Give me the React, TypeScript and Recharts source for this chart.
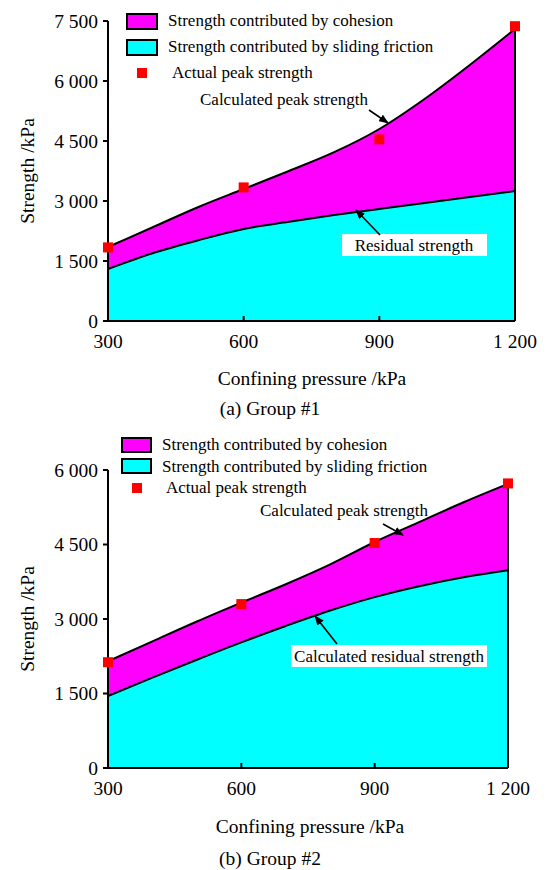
import React from "react";
import {
  Area,
  ComposedChart,
  ReferenceLine,
  Scatter,
  XAxis,
  YAxis,
} from "recharts";

// confining pressure (kPa) for the fitted curves
const PRESSURE = [300, 400, 500, 600, 700, 800, 900, 1000, 1100, 1200];
// test points
const TEST_PRESSURE = [300, 600, 900, 1200];
const X_TICKS = [300, 600, 900, 1200];

// Group #1
const G1_PEAK = [1850, 2350, 2850, 3300, 3750, 4220, 4800, 5550, 6400, 7300];
const G1_RESIDUAL = [1300, 1700, 2020, 2300, 2480, 2650, 2800, 2950, 3100, 3250];
const G1_ACTUAL = [1840, 3340, 4540, 7370];
const G1_Y_TICKS = [0, 1500, 3000, 4500, 6000, 7500];

// Group #2
const G2_PEAK = [2150, 2550, 2950, 3330, 3700, 4100, 4550, 4950, 5350, 5720];
const G2_RESIDUAL = [1450, 1820, 2180, 2530, 2860, 3170, 3440, 3660, 3840, 3980];
const G2_ACTUAL = [2130, 3300, 4530, 5730];
const G2_Y_TICKS = [0, 1500, 3000, 4500, 6000];

const LEGEND_LABELS = [
  "Strength contributed by cohesion",
  "Strength contributed by sliding friction",
  "Actual peak strength",
];

const FONT = "'Liberation Serif', 'Times New Roman', serif";
const MAGENTA = "#FF00FF";
const CYAN = "#00FFFF";
const RED = "#FF0000";
const TICK_FS = 19.5;
const TITLE_FS = 19.5;
const NOTE_FS = 17;

const fmt = (v: number) =>
  v >= 1000 ? `${Math.floor(v / 1000)} ${String(v % 1000).padStart(3, "0")}` : String(v);

function Square(props: any) {
  const { cx, cy } = props;
  if (cx == null || cy == null) return null;
  return <rect x={cx - 5} y={cy - 5} width={10} height={10} fill={RED} />;
}

type LegendLayout = { left: number; top: number; rowGap: number; swW: number; swH: number; textX: number; dotTextX: number };

function LegendBox({ left, top, rowGap, swW, swH, textX, dotTextX }: LegendLayout) {
  const rows = [MAGENTA, CYAN, null];
  return (
    <div
      style={{
        position: "absolute",
        left,
        top,
        width: 340,
        height: rowGap * 3,
        fontFamily: FONT,
        fontSize: NOTE_FS,
        color: "#000",
      }}
    >
      {rows.map((c, i) => (
        <div key={i} style={{ position: "absolute", left: 0, top: i * rowGap, height: rowGap, width: 340 }}>
          {c ? (
            <span
              style={{
                position: "absolute",
                left: 0,
                top: (rowGap - swH) / 2,
                width: swW - 4,
                height: swH - 4,
                background: c,
                border: "2px solid #000",
              }}
            />
          ) : (
            <span
              style={{
                position: "absolute",
                left: swW / 2 - 5,
                top: rowGap / 2 - 5,
                width: 10,
                height: 10,
                background: RED,
              }}
            />
          )}
          <span
            style={{
              position: "absolute",
              left: c ? textX : dotTextX,
              top: 0,
              lineHeight: `${rowGap}px`,
              whiteSpace: "nowrap",
            }}
          >
            {LEGEND_LABELS[i]}
          </span>
        </div>
      ))}
    </div>
  );
}

function Arrow({ x1, y1, x2, y2 }: { x1: number; y1: number; x2: number; y2: number }) {
  return <line x1={x1} y1={y1} x2={x2} y2={y2} stroke="#000" strokeWidth={1.6} markerEnd="url(#arrowHead)" />;
}

type PanelProps = {
  top: number;
  height: number;
  margin: { top: number; right: number; bottom: number; left: number };
  peak: number[];
  residual: number[];
  actual: number[];
  yTicks: number[];
  legend: LegendLayout;
  caption: string;
  titles: { yCy: number; xCx: number; xCy: number; capCx: number; capCy: number };
  notes: React.ReactNode;
};

function Panel(p: PanelProps) {
  const rows = PRESSURE.map((x, i) => ({ p: x, peak: p.peak[i], residual: p.residual[i] }));
  const pts = TEST_PRESSURE.map((x, i) => ({ p: x, actual: p.actual[i] }));
  const yMax = p.yTicks[p.yTicks.length - 1];
  const lastPeak = p.peak[p.peak.length - 1];
  return (
    <div style={{ position: "absolute", left: 0, top: p.top, width: 547, height: p.height }}>
      <ComposedChart width={547} height={p.height} data={rows} margin={p.margin}>
        <XAxis
          dataKey="p"
          type="number"
          domain={[300, 1200]}
          ticks={X_TICKS}
          tickFormatter={fmt}
          height={30}
          tickSize={-5}
          tickMargin={18}
          axisLine={{ stroke: "#000", strokeWidth: 2 }}
          tickLine={{ stroke: "#000", strokeWidth: 2 }}
          tick={{ fontSize: TICK_FS, fill: "#000", fontFamily: FONT }}
          interval={0}
        />
        <YAxis
          type="number"
          domain={[0, yMax]}
          ticks={p.yTicks}
          tickFormatter={fmt}
          width={108}
          tickSize={5}
          tickMargin={5}
          axisLine={{ stroke: "#000", strokeWidth: 2 }}
          tickLine={{ stroke: "#000", strokeWidth: 2 }}
          tick={{ fontSize: TICK_FS, fill: "#000", fontFamily: FONT }}
          interval={0}
        />
        <Area
          type="monotone"
          dataKey="peak"
          stroke="#000"
          strokeWidth={2}
          fill={MAGENTA}
          fillOpacity={1}
          dot={false}
          activeDot={false}
          isAnimationActive={false}
        />
        <Area
          type="monotone"
          dataKey="residual"
          stroke="#000"
          strokeWidth={2}
          fill={CYAN}
          fillOpacity={1}
          dot={false}
          activeDot={false}
          isAnimationActive={false}
        />
        <ReferenceLine
          segment={[
            { x: 1200, y: 0 },
            { x: 1200, y: lastPeak },
          ]}
          stroke="#000"
          strokeWidth={2}
        />
        <Scatter data={pts} dataKey="actual" shape={Square} isAnimationActive={false} />
      </ComposedChart>
      <LegendBox {...p.legend} />
      <svg
        width={547}
        height={p.height}
        style={{ position: "absolute", left: 0, top: 0, pointerEvents: "none", fontFamily: FONT }}
      >
        <text
          x={27}
          y={p.titles.yCy}
          transform={`rotate(-90 27 ${p.titles.yCy})`}
          textAnchor="middle"
          dominantBaseline="central"
          fontSize={TITLE_FS}
        >
          Strength /kPa
        </text>
        <text x={p.titles.xCx} y={p.titles.xCy} textAnchor="middle" dominantBaseline="central" fontSize={TITLE_FS}>
          Confining pressure /kPa
        </text>
        <text x={p.titles.capCx} y={p.titles.capCy} textAnchor="middle" dominantBaseline="central" fontSize={TITLE_FS}>
          {p.caption}
        </text>
        {p.notes}
      </svg>
    </div>
  );
}

export default function App() {
  return (
    <div style={{ position: "absolute", left: 0, top: 0, width: 547, height: 870, background: "#fff", fontFamily: FONT }}>
      <svg width={0} height={0} style={{ position: "absolute" }}>
        <defs>
          <marker id="arrowHead" markerWidth={10} markerHeight={8} refX={9} refY={4} orient="auto" markerUnits="userSpaceOnUse">
            <path d="M0,0 L10,4 L0,8 z" fill="#000" />
          </marker>
        </defs>
      </svg>
      <Panel
        top={0}
        height={440}
        margin={{ top: 21, right: 32, bottom: 89, left: 0 }}
        peak={G1_PEAK}
        residual={G1_RESIDUAL}
        actual={G1_ACTUAL}
        yTicks={G1_Y_TICKS}
        legend={{ left: 126, top: 8, rowGap: 26, swW: 32, swH: 17, textX: 42, dotTextX: 46 }}
        caption="(a) Group #1"
        titles={{ yCy: 171, xCx: 312, xCy: 378, capCx: 270, capCy: 408 }}
        notes={
          <g>
            <text x={200} y={105} fontSize={NOTE_FS}>
              Calculated peak strength
            </text>
            <Arrow x1={369} y1={110} x2={388} y2={123} />
            <rect x={342} y={234} width={145} height={22} fill="#fff" />
            <text x={414} y={245} textAnchor="middle" dominantBaseline="central" fontSize={NOTE_FS}>
              Residual strength
            </text>
            <Arrow x1={380} y1={235} x2={356} y2={210} />
          </g>
        }
      />
      <Panel
        top={440}
        height={430}
        margin={{ top: 30, right: 39, bottom: 72, left: 0 }}
        peak={G2_PEAK}
        residual={G2_RESIDUAL}
        actual={G2_ACTUAL}
        yTicks={G2_Y_TICKS}
        legend={{ left: 121, top: -6, rowGap: 21.5, swW: 31, swH: 16, textX: 41, dotTextX: 45 }}
        caption="(b) Group #2"
        titles={{ yCy: 179, xCx: 310, xCy: 386, capCx: 270, capCy: 418 }}
        notes={
          <g>
            <text x={260} y={76} fontSize={NOTE_FS}>
              Calculated peak strength
            </text>
            <Arrow x1={383} y1={84} x2={403} y2={95} />
            <rect x={291} y={205} width={196} height={22} fill="#fff" />
            <text x={389} y={216} textAnchor="middle" dominantBaseline="central" fontSize={NOTE_FS}>
              Calculated residual strength
            </text>
            <Arrow x1={337} y1={204} x2={315} y2={176} />
          </g>
        }
      />
    </div>
  );
}
